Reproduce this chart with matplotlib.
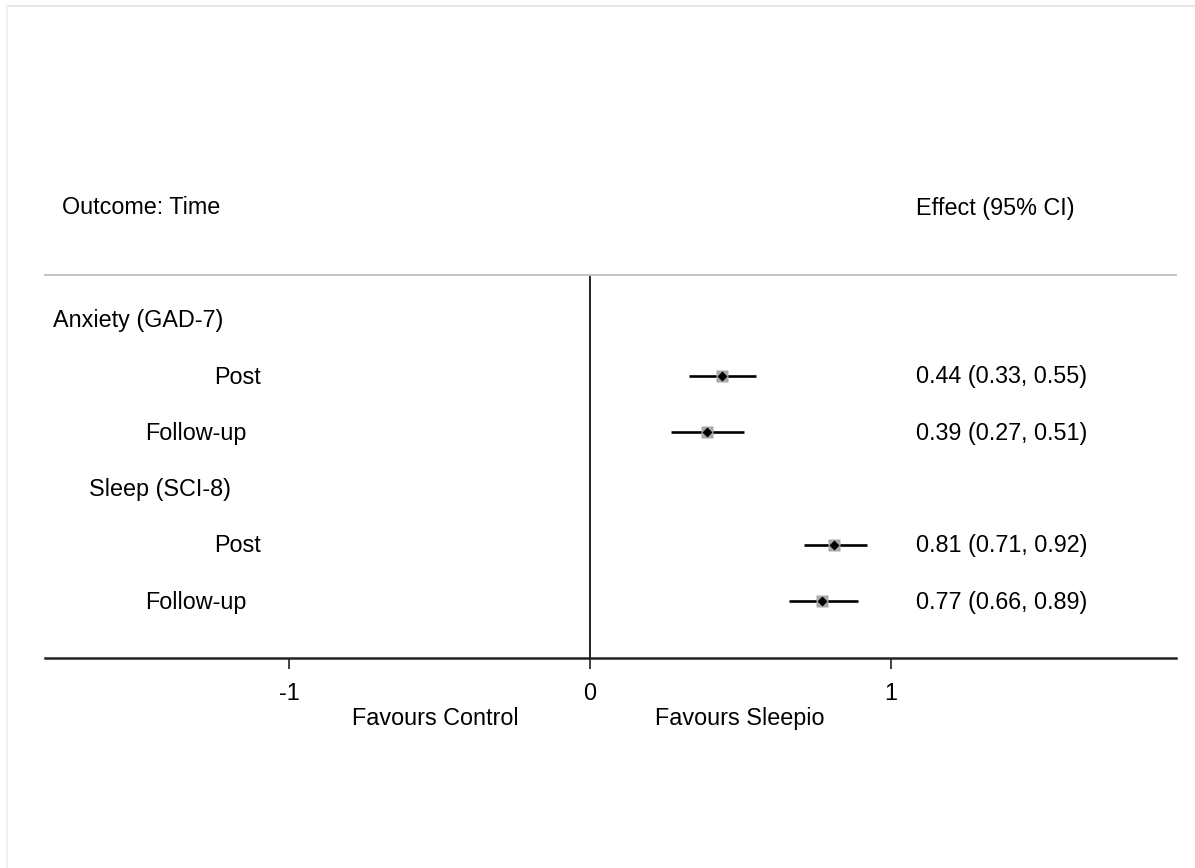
import numpy as np
import matplotlib.pyplot as plt
from matplotlib import transforms

plt.rcParams['font.family'] = ['Liberation Sans', 'DejaVu Sans']
plt.rcParams['font.size'] = 16.8

# data
row_labels = ['Anxiety (GAD-7)', 'Post', 'Follow-up', 'Sleep (SCI-8)', 'Post', 'Follow-up']
effect = [np.nan, 0.44, 0.39, np.nan, 0.81, 0.77]
ci_low = [np.nan, 0.33, 0.27, np.nan, 0.71, 0.66]
ci_high = [np.nan, 0.55, 0.51, np.nan, 0.92, 0.89]
label_x = [53, 214, 145, 89, 214, 145]  # left edge of labels, pixels
xticks = [-1, 0, 1]

fig = plt.figure(figsize=(11.95, 8.68), dpi=100)
W, H = 1195, 868
ax_l, ax_r, ax_t, ax_b = 45, 1176, 275, 658
ax = fig.add_axes([ax_l / W, 1 - ax_b / H, (ax_r - ax_l) / W, (ax_b - ax_t) / H])

px_per_unit = 301.0
x0_px = 590
ax.set_xlim((ax_l - x0_px) / px_per_unit, (ax_r - x0_px) / px_per_unit)
# rows: first row at pixel ~320, spacing ~56.25
row0, row_step = 319.75, 56.25
ax.set_ylim((ax_b - row0) / row_step, (ax_t - row0) / row_step)

# text baseline sits ~7.5 px below the row centre
base = transforms.offset_copy(ax.transData, fig=fig, x=0, y=-7.5, units='dots')
base_y = transforms.offset_copy(ax.get_yaxis_transform(), fig=fig, x=0, y=-7.5, units='dots')

rows = np.arange(len(row_labels))
for i in rows:
    if np.isnan(effect[i]):
        continue
    ax.plot([ci_low[i], ci_high[i]], [i, i], color='black', lw=1.9, solid_capstyle='butt', zorder=2)
    ax.plot(effect[i], i, marker='s', ms=8.8, color='#a9a9a9', mec='none', zorder=3)
    ax.plot(effect[i], i, marker='D', ms=5.6, color='black', mec='none', zorder=4)
    ax.text(1.083, i, f'{effect[i]:.2f} ({ci_low[i]:.2f}, {ci_high[i]:.2f})',
            ha='left', va='baseline', transform=base)

for i, lab in enumerate(row_labels):
    ax.text((label_x[i] - ax_l) / (ax_r - ax_l), i, lab, transform=base_y,
            ha='left', va='baseline')

ax.axvline(0, color='black', lw=1.2, zorder=1)

for s in ['left', 'right']:
    ax.spines[s].set_visible(False)
ax.spines['top'].set_color('#c4c4c4')
ax.spines['top'].set_linewidth(1.4)
ax.spines['bottom'].set_color('#222222')
ax.spines['bottom'].set_linewidth(1.8)

ax.set_yticks([])
ax.set_xticks(xticks)
ax.set_xticklabels([str(t) for t in xticks])
ax.tick_params(axis='x', length=8, width=1.2, color='#222222', pad=9.5)

# header
hdr_y = 214.5
fig.text(62 / W, 1 - hdr_y / H, 'Outcome: Time', ha='left', va='baseline')
fig.text(916 / W, 1 - hdr_y / H, 'Effect (95% CI)', ha='left', va='baseline')

# favours labels
fig.text(435 / W, 1 - 725 / H, 'Favours Control', ha='center', va='baseline')
fig.text(740 / W, 1 - 725 / H, 'Favours Sleepio', ha='center', va='baseline')

# faint frame edge at top and left
fig.add_artist(plt.Line2D([7 / W, 1], [1 - 6 / H, 1 - 6 / H], color='#e4e8ee', lw=1.5))
fig.add_artist(plt.Line2D([7 / W, 7 / W], [0, 1 - 6 / H], color='#eceff3', lw=1.2))

fig.savefig('out.png', dpi=100)
